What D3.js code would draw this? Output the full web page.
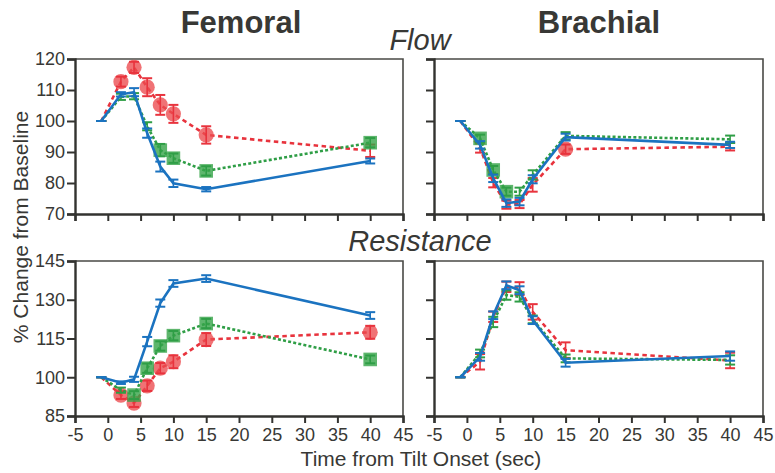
<!DOCTYPE html>
<html>
<head>
<meta charset="utf-8">
<script src="https://cdn.jsdelivr.net/npm/d3@7"></script>
<style>
  html, body { margin: 0; padding: 0; background: #ffffff; }
  svg { display: block; }
  text { font-family: "Liberation Sans", Arial, Helvetica, sans-serif; fill: #383835; }
</style>
</head>
<body>
<svg id="chart" width="775" height="473"></svg>
<script>
// ---------------- DATA ----------------
const times = [-1, 2, 4, 6, 8, 10, 15, 40];
const xTicks = [-5, 0, 5, 10, 15, 20, 25, 30, 35, 40, 45];
const flowTicks = [70, 80, 90, 100, 110, 120];
const resTicks = [85, 100, 115, 130, 145];

// Femoral flow
const femFlowBlue     = [100, 108.6, 109.3, 96.1, 85.3, 79.9, 78.0, 87.1];
const femFlowBlueErr  = [0, 0.7, 1.3, 1.5, 1.6, 1.2, 0.7, 0.8];
const femFlowGreen    = [100, 107.8, 108.0, 98.3, 90.6, 88.0, 83.9, 93.0];
const femFlowGreenErr = [0, 1.0, 1.0, 1.3, 2.0, 1.5, 1.5, 1.5];
const femFlowRed      = [100, 112.7, 117.3, 110.9, 105.2, 102.3, 95.5, 90.4];
const femFlowRedErr   = [0, 1.6, 1.8, 2.9, 3.2, 2.9, 2.8, 2.0];
const femFlowGreenMk  = [0, 0, 0, 0, 1, 1, 1, 1];
const femFlowRedMk    = [0, 1, 1, 1, 1, 1, 1, 0];

// Brachial flow
const brFlowBlue     = [100, 92.3, 81.5, 73.5, 74.0, 81.2, 94.8, 92.3];
const brFlowBlueErr  = [0, 1.2, 1.2, 1.2, 1.2, 1.3, 1.1, 1.0];
const brFlowGreen    = [100, 94.4, 84.2, 77.2, 77.2, 82.6, 95.2, 94.1];
const brFlowGreenErr = [0, 1.2, 1.3, 1.3, 1.3, 1.5, 1.2, 1.2];
const brFlowRed      = [100, 91.3, 80.1, 73.0, 73.2, 79.4, 90.9, 91.7];
const brFlowRedErr   = [0, 1.5, 1.5, 1.3, 1.3, 2.2, 1.5, 1.2];
const brFlowGreenMk  = [0, 1, 1, 1, 0, 0, 0, 0];
const brFlowRedMk    = [0, 0, 0, 0, 0, 0, 1, 0];

// Femoral resistance
const femResBlue     = [100, 97.9, 99.2, 113.8, 128.7, 136.3, 138.2, 123.9];
const femResBlueErr  = [0, 0.5, 1.0, 1.8, 1.4, 1.3, 1.3, 1.3];
const femResGreen    = [100, 95.0, 93.1, 103.5, 112.1, 116.1, 120.8, 106.9];
const femResGreenErr = [0, 1.0, 1.5, 1.8, 1.8, 1.8, 1.8, 1.5];
const femResRed      = [100, 93.1, 90.0, 96.7, 103.5, 106.0, 114.6, 117.4];
const femResRedErr   = [0, 1.5, 1.5, 2.0, 2.0, 2.5, 2.5, 2.5];
const femResGreenMk  = [0, 0, 1, 1, 1, 1, 1, 1];
const femResRedMk    = [0, 1, 1, 1, 1, 1, 1, 1];

// Brachial resistance
const brResBlue     = [100, 107.9, 124.0, 135.6, 133.7, 122.1, 105.6, 108.2];
const brResBlueErr  = [0, 1.5, 1.5, 1.5, 1.5, 1.5, 1.5, 1.8];
const brResGreen    = [100, 109.2, 121.4, 131.8, 131.1, 122.4, 107.3, 106.7];
const brResGreenErr = [0, 1.5, 2.0, 1.8, 1.8, 1.5, 1.5, 1.8];
const brResRed      = [100, 106.0, 123.4, 135.0, 134.3, 125.3, 110.5, 106.5];
const brResRedErr   = [0, 3.0, 2.0, 2.0, 2.5, 3.0, 3.0, 3.0];
const noMk = [0, 0, 0, 0, 0, 0, 0, 0];

// ---------------- DRAWING ----------------
const svg = d3.select("#chart");
const colX = [[75, 403], [434, 763]];
const rowY = [[59, 214], [261, 416]];
const BLUE = "#1b73c0", GREEN = "#2f9e46", RED = "#e8333d";

const panels = [
  { col: 0, row: 0, domain: [70, 120], ticks: flowTicks, yLabels: true, xLabels: false,
    series: [
      { v: femFlowRed, e: femFlowRedErr, mk: femFlowRedMk, kind: "red" },
      { v: femFlowGreen, e: femFlowGreenErr, mk: femFlowGreenMk, kind: "green" },
      { v: femFlowBlue, e: femFlowBlueErr, mk: noMk, kind: "blue" } ] },
  { col: 1, row: 0, domain: [70, 120], ticks: flowTicks, yLabels: false, xLabels: false,
    series: [
      { v: brFlowRed, e: brFlowRedErr, mk: brFlowRedMk, kind: "red" },
      { v: brFlowGreen, e: brFlowGreenErr, mk: brFlowGreenMk, kind: "green" },
      { v: brFlowBlue, e: brFlowBlueErr, mk: noMk, kind: "blue" } ] },
  { col: 0, row: 1, domain: [85, 145], ticks: resTicks, yLabels: true, xLabels: true,
    series: [
      { v: femResRed, e: femResRedErr, mk: femResRedMk, kind: "red" },
      { v: femResGreen, e: femResGreenErr, mk: femResGreenMk, kind: "green" },
      { v: femResBlue, e: femResBlueErr, mk: noMk, kind: "blue" } ] },
  { col: 1, row: 1, domain: [85, 145], ticks: resTicks, yLabels: false, xLabels: true,
    series: [
      { v: brResRed, e: brResRedErr, mk: noMk, kind: "red" },
      { v: brResGreen, e: brResGreenErr, mk: noMk, kind: "green" },
      { v: brResBlue, e: brResBlueErr, mk: noMk, kind: "blue" } ] }
];

const style = {
  blue:  { stroke: BLUE, dash: null, width: 2.6 },
  green: { stroke: GREEN, dash: "3,2.2", width: 2.6 },
  red:   { stroke: RED, dash: "4.5,3.5", width: 2.6 }
};

panels.forEach(p => {
  const [x0, x1] = colX[p.col];
  const [y0, y1] = rowY[p.row];
  const x = d3.scaleLinear().domain([-5, 45]).range([x0, x1]);
  const y = d3.scaleLinear().domain(p.domain).range([y1, y0]);
  const g = svg.append("g");

  // frame (top & right)
  g.append("path")
    .attr("d", `M${x0},${y0}H${x1}V${y1}`)
    .attr("fill", "none").attr("stroke", "#4a4a46").attr("stroke-width", 1.6);

  // axes
  const xa = d3.axisBottom(x).tickValues(xTicks).tickSize(7).tickPadding(5)
    .tickFormat(p.xLabels ? (d => String(d)) : () => "");
  const ya = d3.axisLeft(y).tickValues(p.ticks).tickSize(8).tickPadding(2)
    .tickFormat(p.yLabels ? (d => String(d)) : () => "");
  const gx = g.append("g").attr("transform", `translate(0,${y1})`).call(xa);
  const gy = g.append("g").attr("transform", `translate(${x0},0)`).call(ya);
  [gx, gy].forEach(a => {
    a.select(".domain").attr("stroke", "#333330").attr("stroke-width", 2.4);
    a.selectAll(".tick line").attr("stroke", "#333330").attr("stroke-width", 2);
    a.selectAll(".tick text").style("font-size", "18px").attr("fill", "#383835");
  });

  // series
  p.series.forEach(s => {
    const st = style[s.kind];
    const pts = times.map((t, i) => ({ t, v: s.v[i], e: s.e[i], mk: s.mk[i] }));
    const line = d3.line().x(d => x(d.t)).y(d => y(d.v));
    g.append("path").datum(pts).attr("d", line)
      .attr("fill", "none").attr("stroke", st.stroke).attr("stroke-width", st.width)
      .attr("stroke-dasharray", st.dash);

    // markers
    if (s.kind === "red") {
      g.selectAll(null).data(pts.filter(d => d.mk)).enter().append("circle")
        .attr("cx", d => x(d.t)).attr("cy", d => y(d.v)).attr("r", 7.6)
        .attr("fill", "#ec4a4e").attr("fill-opacity", 0.78);
    } else if (s.kind === "green") {
      g.selectAll(null).data(pts.filter(d => d.mk)).enter().append("rect")
        .attr("x", d => x(d.t) - 6.8).attr("y", d => y(d.v) - 6.8)
        .attr("width", 13.6).attr("height", 13.6)
        .attr("fill", "#36a448").attr("fill-opacity", 0.8);
    }

    // error bars
    const eb = g.selectAll(null).data(pts).enter().append("g");
    eb.append("line")
      .attr("x1", d => x(d.t)).attr("x2", d => x(d.t))
      .attr("y1", d => y(d.v - d.e)).attr("y2", d => y(d.v + d.e))
      .attr("stroke", st.stroke).attr("stroke-width", 1.6);
    [-1, 1].forEach(sg => {
      eb.append("line")
        .attr("x1", d => x(d.t) - 5).attr("x2", d => x(d.t) + 5)
        .attr("y1", d => y(d.v + sg * d.e)).attr("y2", d => y(d.v + sg * d.e))
        .attr("stroke", st.stroke).attr("stroke-width", 2);
    });
  });
});

// titles & labels
svg.append("text").attr("x", 241).attr("y", 33).attr("text-anchor", "middle")
  .style("font-size", "31px").style("font-weight", "bold").text("Femoral");
svg.append("text").attr("x", 599).attr("y", 33).attr("text-anchor", "middle")
  .style("font-size", "31px").style("font-weight", "bold").text("Brachial");
svg.append("text").attr("x", 420).attr("y", 50).attr("text-anchor", "middle")
  .style("font-size", "29px").style("font-style", "italic").text("Flow");
svg.append("text").attr("x", 420).attr("y", 251).attr("text-anchor", "middle")
  .style("font-size", "29px").style("font-style", "italic").text("Resistance");
svg.append("text").attr("x", 421).attr("y", 466).attr("text-anchor", "middle")
  .style("font-size", "21px").text("Time from Tilt Onset (sec)");
svg.append("text").attr("transform", "translate(28,227) rotate(-90)").attr("text-anchor", "middle")
  .style("font-size", "21px").text("% Change from Baseline");
</script>
</body>
</html>
